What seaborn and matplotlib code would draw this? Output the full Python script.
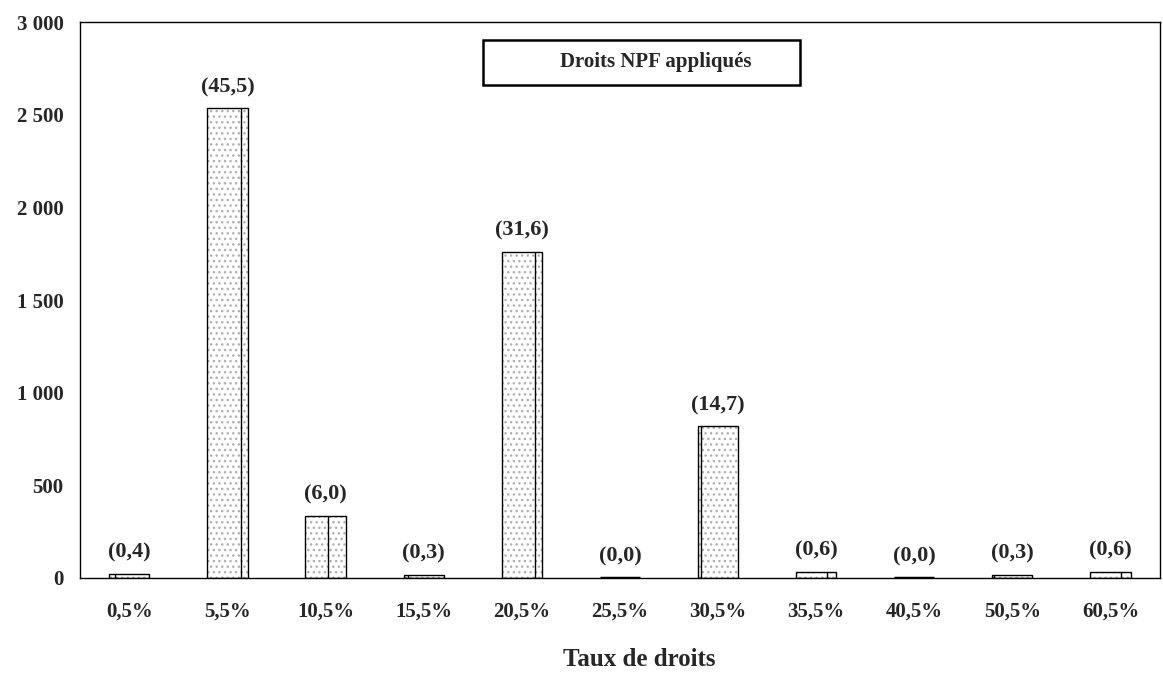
import matplotlib
matplotlib.use("Agg")
import matplotlib.pyplot as plt
from matplotlib.patches import Rectangle
import seaborn as sns
import pandas as pd

# tariff bands and number of tariff lines
taux = ["0,5%", "5,5%", "10,5%", "15,5%", "20,5%", "25,5%", "30,5%",
        "35,5%", "40,5%", "50,5%", "60,5%"]
lignes = [22, 2535, 334, 17, 1760, 0, 819, 33, 0, 17, 33]
parts = ["(0,4)", "(45,5)", "(6,0)", "(0,3)", "(31,6)", "(0,0)", "(14,7)",
         "(0,6)", "(0,0)", "(0,3)", "(0,6)"]
# where the inner divider line sits inside each bar (fraction of width)
split = [0.15, 0.85, 0.55, 0.1, 0.83, 0.5, 0.08, 0.78, 0.5, 0.05, 0.76]

df = pd.DataFrame({"taux": taux, "lignes": lignes})

sns.set_style("white")
plt.rcParams["font.family"] = ["Liberation Serif", "DejaVu Serif"]
plt.rcParams["font.weight"] = "bold"
plt.rcParams["hatch.linewidth"] = 1.0

fig, ax = plt.subplots(figsize=(11.63, 6.75), dpi=100)
fig.subplots_adjust(left=0.069, right=0.997, top=0.967, bottom=0.144)

# dotted fill
sns.barplot(data=df, x="taux", y="lignes", color="white", width=0.41,
            edgecolor="#b0b0b0", linewidth=0, hatch="...", ax=ax)
# black outline
sns.barplot(data=df, x="taux", y="lignes", fill=False, width=0.41,
            edgecolor="black", linewidth=1.0, ax=ax)

bars = ax.patches[len(taux):]
for p, s, lab in zip(bars, split, parts):
    x0 = p.get_x()
    w = p.get_width()
    h = p.get_height()
    if h > 0:
        ax.vlines(x0 + s * w, 0, h, color="black", lw=1.0)
    else:
        ax.hlines(0, x0, x0 + w, color="black", lw=2.5)
    ax.annotate(lab, (x0 + w / 2, h), xytext=(0, 8), textcoords="offset points",
                ha="center", va="bottom", fontsize=16, fontweight="bold")

ax.set_ylim(0, 3000)
ax.set_xlim(-0.5, len(taux) - 0.5)
ax.set_yticks(range(0, 3001, 500))
ax.set_yticklabels([f"{v:,}".replace(",", " ") for v in range(0, 3001, 500)])

# x ticks sit between the categories, labels centred under bars
ax.set_xticks([i - 0.5 for i in range(len(taux) + 1)])
ax.set_xticklabels([])
ax.set_xticks(range(len(taux)), minor=True)
ax.set_xticklabels(taux, minor=True)
ax.tick_params(axis="x", which="minor", length=0, pad=17, labelsize=15)
ax.tick_params(axis="x", which="major", direction="out", length=6, width=1, color="black")
ax.tick_params(axis="y", direction="out", length=6, width=1, color="black",
               labelsize=15, pad=6)
for lbl in ax.get_xticklabels(minor=True) + ax.get_yticklabels():
    lbl.set_fontweight("bold")

for sp in ax.spines.values():
    sp.set_color("black")
    sp.set_linewidth(1.0)

ax.set_xlabel("Taux de droits", fontsize=18, fontweight="bold", va="center")
ax.xaxis.set_label_coords(0.518, -0.147)
ax.set_ylabel("")

# title box
ax.add_patch(Rectangle((0.373, 0.887), 0.294, 0.081, transform=ax.transAxes,
                       facecolor="white", edgecolor="black", lw=1.8, zorder=5))
ax.text(0.533, 0.928, "Droits NPF appliqués", transform=ax.transAxes,
        ha="center", va="center", fontsize=15, fontweight="bold", zorder=6)

fig.savefig("out.png", dpi=100)
plt.close(fig)
